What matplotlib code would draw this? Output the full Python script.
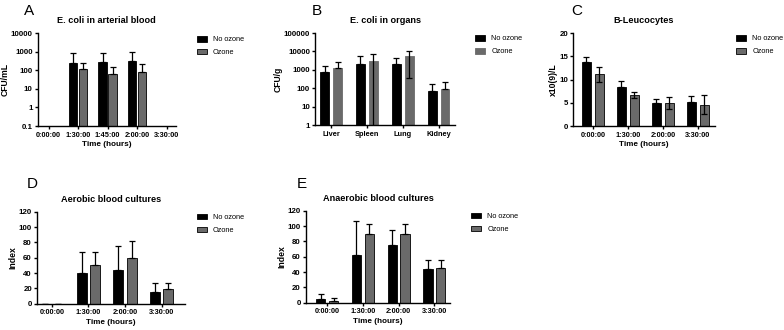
import numpy as np
import matplotlib
matplotlib.use("Agg")
from matplotlib import pyplot as plt
from matplotlib.patches import Patch

plt.rcParams['font.family'] = ['Liberation Sans', 'DejaVu Sans']

# data
times_a = ['0:00:00', '1:30:00', '1:45:00', '2:00:00', '3:30:00']
a_no = [0, 260, 270, 330, 0]
a_no_up = [0, 540, 580, 620, 0]
a_oz = [0, 110, 60, 85, 0]
a_oz_up = [0, 120, 90, 135, 0]

organs = ['Liver', 'Spleen', 'Lung', 'Kidney']
b_no = [750, 2200, 2000, 70]
b_no_up = [950, 3600, 2200, 100]
b_oz = [1200, 3000, 5500, 90]
b_oz_up = [1500, 3800, 5500, 140]
b_oz_down = [0, 2999.5, 5150, 0]

times_c = ['0:00:00', '1:30:00', '2:00:00', '3:30:00']
c_no = [13.7, 8.4, 5.0, 5.1]
c_no_up = [1.2, 1.3, 0.8, 1.3]
c_oz = [11.1, 6.7, 4.9, 4.6]
c_oz_err = [1.7, 0.6, 1.3, 2.1]

times_d = ['0:00:00', '1:30:00', '2:00:00', '3:30:00']
d_no = [0, 40, 44, 15]
d_no_up = [0, 28, 31, 12]
d_oz = [0, 50, 60, 19]
d_oz_up = [0, 17, 22, 8]

e_no = [5, 62, 75, 44]
e_no_up = [6, 44, 20, 12]
e_oz = [2, 90, 90, 45]
e_oz_up = [4, 13, 13, 11]

BLACK = '#000000'
GREY = '#6a6a6a'

fig = plt.figure(figsize=(7.84, 3.30), dpi=100)


def style(ax):
    for s in ['top', 'right']:
        ax.spines[s].set_visible(False)
    for s in ['left', 'bottom']:
        ax.spines[s].set_linewidth(1.0)
    ax.tick_params(axis='both', width=1.0, length=2.5, pad=1)
    ax.tick_params(axis='y', labelsize=5.7)
    ax.tick_params(axis='x', labelsize=5.3, pad=1.5)
    ax.tick_params(axis='y', which='minor', length=0)
    for lab in ax.get_xticklabels() + ax.get_yticklabels():
        lab.set_fontweight('bold')


def panel(rect, cats, no, oz, no_err, oz_err, off, width, xlim,
          title, ylabel, xlabel, letter, letter_xy, leg_xy, edge=True):
    ax = fig.add_axes(rect)
    x = np.arange(len(cats))
    ax.bar(x - off, no, width, color=BLACK, edgecolor=BLACK, linewidth=0.6, zorder=2)
    ax.bar(x + off, oz, width, color=GREY,
           edgecolor=BLACK if edge else GREY, linewidth=0.6, zorder=2)
    ax.errorbar(x - off, no, yerr=no_err, fmt='none', ecolor=BLACK,
                elinewidth=0.9, capsize=2.2, capthick=0.9, zorder=3)
    ax.errorbar(x + off, oz, yerr=oz_err, fmt='none', ecolor=BLACK,
                elinewidth=0.9, capsize=2.2, capthick=0.9, zorder=3)
    ax.set_xticks(x)
    ax.set_xticklabels(cats)
    ax.set_xlim(*xlim)
    ax.set_title(title, fontsize=6.6, fontweight='bold', pad=7)
    ax.set_ylabel(ylabel, fontsize=6.2, fontweight='bold', labelpad=1)
    if xlabel:
        ax.set_xlabel(xlabel, fontsize=5.9, fontweight='bold', labelpad=2)
    fig.text(letter_xy[0], letter_xy[1], letter, fontsize=11, va='baseline')
    handles = [Patch(facecolor=BLACK, edgecolor=BLACK, linewidth=0.6),
               Patch(facecolor=GREY, edgecolor=BLACK if edge else GREY, linewidth=0.6)]
    fig.legend(handles, ['No ozone', 'Ozone'], loc='upper left',
               bbox_to_anchor=leg_xy, bbox_transform=fig.transFigure,
               frameon=False, fontsize=5.3, borderpad=0, borderaxespad=0,
               handlelength=1.4, handleheight=0.8, handletextpad=0.8,
               labelspacing=0.75)
    return ax


# A
ax = panel([0.048, 0.618, 0.1765, 0.282], times_a, a_no, a_oz,
           [np.zeros(5), a_no_up], [np.zeros(5), a_oz_up], 0.17, 0.29, (-0.37, 4.32),
           'E. coli in arterial blood', 'CFU/mL', 'Time (hours)', 'A',
           (0.031, 0.955), (0.251, 0.891))
ax.set_yscale('log')
ax.set_ylim(0.1, 10000)
ax.set_yticks([0.1, 1, 10, 100, 1000, 10000])
ax.set_yticklabels(['0.1', '1', '10', '100', '1000', '10000'])
style(ax)

# B
ax = panel([0.4018, 0.621, 0.1786, 0.279], organs, b_no, b_oz,
           [np.zeros(4), b_no_up], [b_oz_down, b_oz_up], 0.18, 0.25, (-0.45, 3.46),
           'E. coli in organs', 'CFU/g', None, 'B',
           (0.398, 0.955), (0.606, 0.894), edge=False)
ax.set_yscale('log')
ax.set_ylim(1, 100000)
ax.set_yticks([1, 10, 100, 1000, 10000, 100000])
ax.set_yticklabels(['1', '10', '100', '1000', '10000', '100000'])
style(ax)

# C
ax = panel([0.7309, 0.618, 0.181, 0.282], times_c, c_no, c_oz,
           [np.zeros(4), c_no_up], c_oz_err, 0.185, 0.26, (-0.57, 3.49),
           'B-Leucocytes', 'x10(9)/L', 'Time (hours)', 'C',
           (0.729, 0.955), (0.939, 0.894))
ax.set_ylim(0, 20)
ax.set_yticks([0, 5, 10, 15, 20])
style(ax)

# D
ax = panel([0.047, 0.0797, 0.189, 0.2788], times_d, d_no, d_oz,
           [np.zeros(4), d_no_up], [np.zeros(4), d_oz_up], 0.18, 0.27, (-0.41, 3.64),
           'Aerobic blood cultures', 'Index', 'Time (hours)', 'D',
           (0.034, 0.43), (0.251, 0.352))
ax.set_ylim(0, 120)
ax.set_yticks(np.arange(0, 121, 20))
style(ax)

# E
ax = panel([0.390, 0.0827, 0.184, 0.2788], times_d, e_no, e_oz,
           [np.zeros(4), e_no_up], [np.zeros(4), e_oz_up], 0.18, 0.26, (-0.6, 3.44),
           'Anaerobic blood cultures', 'Index', 'Time (hours)', 'E',
           (0.379, 0.43), (0.601, 0.355))
ax.set_ylim(0, 120)
ax.set_yticks(np.arange(0, 121, 20))
style(ax)

fig.savefig('out.png', dpi=100)
